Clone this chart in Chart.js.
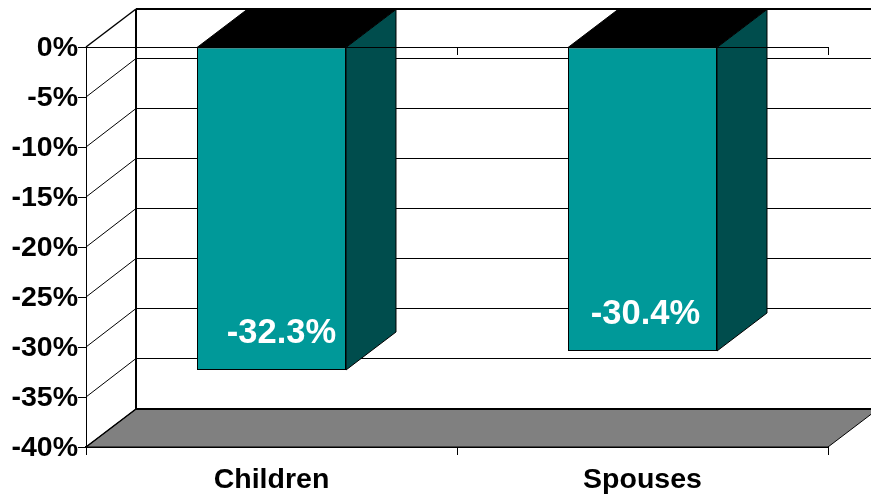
<!DOCTYPE html>
<html>
<head>
<meta charset="utf-8">
<style>
  html, body { margin: 0; padding: 0; background: #fff; }
  canvas { display: block; }
</style>
<script src="https://cdn.jsdelivr.net/npm/chart.js@4"></script>
</head>
<body>
<canvas id="chart" width="871" height="495"></canvas>
<script>
// Chart data
const categories = ['Children', 'Spouses'];
const changes = [-32.3, -30.4];
const gridValues = [-5, -10, -15, -20, -25, -30, -35];

// 3D look
const depthX = 50;
const depthY = -38;
const teal = '#009999';
const tealDark = '#004d4d';
const floorGrey = '#808080';

const polygon = (ctx, points, fill, stroke) => {
    ctx.beginPath();
    points.forEach((p, i) => i ? ctx.lineTo(p[0], p[1]) : ctx.moveTo(p[0], p[1]));
    ctx.closePath();
    ctx.fillStyle = fill;
    ctx.fill();
    ctx.lineWidth = 1;
    ctx.strokeStyle = stroke;
    ctx.stroke();
};

const line = (ctx, x1, y1, x2, y2, width) => {
    ctx.beginPath();
    ctx.moveTo(x1, y1);
    ctx.lineTo(x2, y2);
    ctx.lineWidth = width;
    ctx.strokeStyle = '#000';
    ctx.stroke();
};

// Walls, floor and the top and side of each bar
const box3d = {
    id: 'box3d',
    beforeDatasetsDraw(chart) {
        const { ctx, chartArea: a, scales: { y } } = chart;
        ctx.save();

        polygon(ctx, [
            [a.left, a.bottom],
            [a.left + depthX, a.bottom + depthY],
            [a.right + depthX, a.bottom + depthY],
            [a.right, a.bottom]
        ], floorGrey, '#000');

        line(ctx, a.left + depthX, a.top + depthY, a.left + depthX, a.bottom + depthY, 2);
        line(ctx, a.left + depthX, a.top + depthY, a.right + depthX, a.top + depthY, 2);
        line(ctx, a.left + depthX, a.bottom + depthY, a.right + depthX, a.bottom + depthY, 2);
        line(ctx, a.left, a.top, a.left + depthX, a.top + depthY, 1.5);
        line(ctx, a.left, a.bottom, a.left + depthX, a.bottom + depthY, 1.5);

        gridValues.forEach(v => {
            const py = y.getPixelForValue(v);
            line(ctx, a.left, py, a.left + depthX, py + depthY - 0.5, 1);
            line(ctx, a.left + depthX, py + depthY - 0.5, a.right + depthX, py + depthY - 0.5, 1);
        });

        chart.getDatasetMeta(0).data.forEach(bar => {
            const half = bar.width / 2;
            const l = bar.x - half;
            const r = bar.x + half;
            polygon(ctx, [
                [l, bar.base],
                [l + depthX, bar.base + depthY],
                [r + depthX, bar.base + depthY],
                [r, bar.base]
            ], '#000', '#000');
            polygon(ctx, [
                [r, bar.base],
                [r + depthX, bar.base + depthY],
                [r + depthX, bar.y + depthY],
                [r, bar.y]
            ], tealDark, '#000');
        });
        ctx.restore();
    },
    afterDatasetsDraw(chart) {
        const { ctx, chartArea: a, scales: { x } } = chart;
        ctx.save();

        // Zero line with its tick marks
        line(ctx, a.left, a.top + 0.5, a.right, a.top + 0.5, 1);
        const mid = Math.round((x.getPixelForValue(0) + x.getPixelForValue(1)) / 2) + 0.5;
        line(ctx, mid, a.top, mid, a.top + 8, 1);
        line(ctx, a.right + 0.5, a.top, a.right + 0.5, a.top + 8, 1);

        // Value labels
        ctx.fillStyle = '#fff';
        ctx.font = 'bold 34.5px "Liberation Sans", Arial, sans-serif';
        ctx.textAlign = 'center';
        ctx.textBaseline = 'middle';
        chart.getDatasetMeta(0).data.forEach((bar, i) => {
            const shiftX = i === 0 ? 10 : 3;
            ctx.fillText(changes[i].toFixed(1) + '%', bar.x + shiftX, bar.y - 37);
        });
        ctx.restore();
    }
};

new Chart(document.getElementById('chart').getContext('2d'), {
    type: 'bar',
    data: {
        labels: categories,
        datasets: [{
            data: changes,
            backgroundColor: teal,
            borderColor: '#000',
            borderWidth: 1,
            borderSkipped: false,
            categoryPercentage: 1,
            barPercentage: 0.4016
        }]
    },
    options: {
        responsive: false,
        animation: false,
        devicePixelRatio: 1,
        layout: { padding: { top: 47, right: 43, left: 0, bottom: 0 } },
        plugins: { legend: { display: false }, tooltip: { enabled: false } },
        scales: {
            x: {
                afterFit: scale => { scale.height = 48; },
                border: { color: '#000', width: 2 },
                grid: { color: '#000', drawOnChartArea: false, tickLength: 8 },
                ticks: { color: '#000', font: { family: '"Liberation Sans"', size: 28.5, weight: 'bold' }, padding: 8, maxRotation: 0 }
            },
            y: {
                min: -40,
                max: 0,
                afterFit: scale => { scale.width = 86; },
                border: { color: '#000', width: 1 },
                grid: { color: '#000', drawOnChartArea: false, tickLength: 8 },
                ticks: {
                    stepSize: 5,
                    autoSkip: false,
                    color: '#000',
                    padding: 0,
                    labelOffset: 1,
                    font: { family: '"Liberation Sans"', size: 28.5, weight: 'bold' },
                    callback: v => v + '%'
                }
            }
        }
    },
    plugins: [box3d]
});
</script>
</body>
</html>
